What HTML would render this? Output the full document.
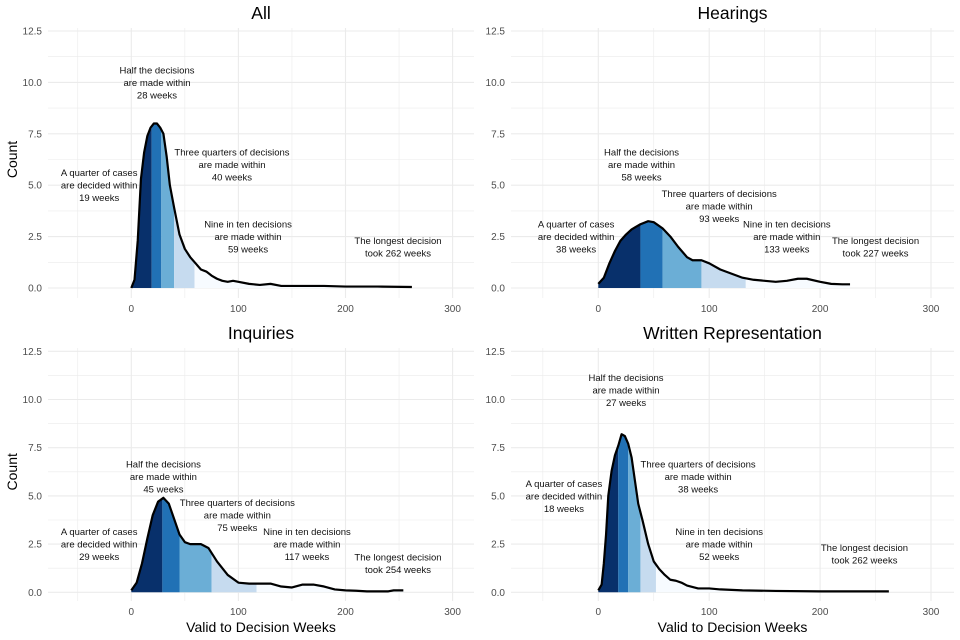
<!DOCTYPE html>
<html><head><meta charset="utf-8">
<style>
html,body{margin:0;padding:0;background:#fff;}
svg{display:block;font-family:"Liberation Sans",Arial,sans-serif;}
</style></head>
<body>
<svg id="chart" width="960" height="640" viewBox="0 0 960 640"></svg>
<script>
// ---- data ----
const panelTitles = ["All", "Hearings", "Inquiries", "Written Representation"];
const xTicks = [0, 100, 200, 300];
const yTicks = [0, 2.5, 5, 7.5, 10, 12.5];
const yTickLabels = ["0.0", "2.5", "5.0", "7.5", "10.0", "12.5"];

const allWeeks = [0,3,6,9,12,15,18,21,24,27,30,33,36,40,45,50,55,60,65,70,75,80,85,90,95,100,110,120,130,140,150,180,200,230,262];
const allCounts = [0,0.4,2.3,5.3,6.6,7.4,7.8,8.0,8.0,7.8,7.5,6.4,5.0,3.9,2.6,1.9,1.5,1.2,0.9,0.8,0.6,0.45,0.35,0.3,0.35,0.3,0.2,0.15,0.2,0.1,0.1,0.1,0.07,0.07,0.05];
const allQuantiles = [19, 28, 40, 59, 262];

const hearWeeks = [0,5,10,15,20,25,30,38,45,50,58,65,72,80,85,93,100,110,120,130,140,150,160,170,180,188,200,210,220,227];
const hearCounts = [0.2,0.5,1.2,1.8,2.3,2.6,2.85,3.1,3.25,3.2,2.9,2.5,2.0,1.5,1.35,1.35,1.2,0.9,0.7,0.5,0.4,0.35,0.3,0.35,0.45,0.45,0.3,0.2,0.18,0.18];
const hearQuantiles = [38, 58, 93, 133, 227];

const inqWeeks = [0,5,10,15,20,25,30,35,40,45,50,55,65,72,80,90,100,110,120,130,140,150,160,170,180,190,200,210,220,240,245,254];
const inqCounts = [0.1,0.5,1.5,2.8,4.0,4.7,4.9,4.6,3.8,3.0,2.6,2.5,2.5,2.3,1.6,0.9,0.5,0.45,0.45,0.45,0.3,0.25,0.4,0.4,0.3,0.15,0.1,0.08,0.05,0.05,0.1,0.1];
const inqQuantiles = [29, 45, 75, 117, 254];

const wrWeeks = [0,3,5,7,9,12,15,18,21,24,27,30,33,36,40,45,50,55,60,65,70,75,80,90,100,110,130,160,200,262];
const wrCounts = [0.1,0.4,1.5,3.0,5.0,6.3,7.1,7.6,8.2,8.1,7.7,7.0,5.8,4.6,3.7,2.5,1.6,1.2,0.9,0.65,0.6,0.5,0.35,0.2,0.2,0.15,0.1,0.07,0.05,0.05];
const wrQuantiles = [18, 27, 38, 52, 262];

const labelTexts = [
  ["A quarter of cases","are decided within"],
  ["Half the decisions","are made within"],
  ["Three quarters of decisions","are made within"],
  ["Nine in ten decisions","are made within"],
  ["The longest decision"]
];
const allLabelX = [-30, 24, 94, 109, 249];
const allLabelY = [5.0, 10.0, 6.0, 2.5, 2.0];
const hearLabelX = [-20, 39, 109, 170, 250];
const hearLabelY = [2.5, 6.0, 4.0, 2.5, 2.0];
const inqLabelX = [-30, 30, 99, 164, 249];
const inqLabelY = [2.5, 6.0, 4.0, 2.5, 1.5];
const wrLabelX = [-31, 25, 90, 109, 240];
const wrLabelY = [5.0, 10.5, 6.0, 2.5, 2.0];

const fills = ["#08306b","#2171b5","#6baed6","#c6dbef","#f7fbff"];

const panels = [
  {name:"all", weeks:allWeeks, counts:allCounts, q:allQuantiles, lx:allLabelX, ly:allLabelY,
   left:48,right:474,top:20,bottom:298,x0:131.3,xs:1.071,y0:288,ys:20.56,yAxisTitle:true,xAxisTitle:false},
  {name:"hearings", weeks:hearWeeks, counts:hearCounts, q:hearQuantiles, lx:hearLabelX, ly:hearLabelY,
   left:511,right:954,top:20,bottom:298,x0:598.3,xs:1.109,y0:288,ys:20.56,yAxisTitle:false,xAxisTitle:false},
  {name:"inquiries", weeks:inqWeeks, counts:inqCounts, q:inqQuantiles, lx:inqLabelX, ly:inqLabelY,
   left:48,right:474,top:340,bottom:601,x0:131.3,xs:1.071,y0:592.3,ys:19.28,yAxisTitle:true,xAxisTitle:true},
  {name:"written-representation", weeks:wrWeeks, counts:wrCounts, q:wrQuantiles, lx:wrLabelX, ly:wrLabelY,
   left:511,right:954,top:340,bottom:601,x0:598.3,xs:1.109,y0:592.3,ys:19.28,yAxisTitle:false,xAxisTitle:true}
];

const NS = "http://www.w3.org/2000/svg";
const svg = document.getElementById("chart");
function mk(tag, attrs, parent){
  const e = document.createElementNS(NS, tag);
  for (const k in attrs) e.setAttribute(k, attrs[k]);
  (parent||svg).appendChild(e);
  return e;
}
function interp(ws, cs, x){
  if (x <= ws[0]) return cs[0];
  for (let i=1;i<ws.length;i++){
    if (x <= ws[i]){ const t=(x-ws[i-1])/(ws[i]-ws[i-1]); return cs[i-1]+t*(cs[i]-cs[i-1]); }
  }
  return cs[cs.length-1];
}

panels.forEach((p, pi) => {
  const sx = v => p.x0 + v*p.xs;
  const sy = v => p.y0 - v*p.ys;
  const g = mk("g", {});
  
  

  const grid = mk("g", {}, g);
  
  
  for (let v=-50; v<=300; v+=50){
    const x = sx(v);
    if (x < p.left || x > p.right) continue;
    mk("line",{x1:x,x2:x,y1:p.top+8,y2:p.bottom,stroke:"#ebebeb","stroke-width":(v%100===0)?1.1:0.6},grid);
  }
  for (let v=0; v<=12.5; v+=1.25){
    const y = sy(v);
    mk("line",{x1:p.left,x2:p.right,y1:y,y2:y,stroke:"#ebebeb","stroke-width":(Math.abs(v/2.5-Math.round(v/2.5))<1e-6)?1.1:0.6},grid);
  }

  yTicks.forEach((v,i) => {
    const t = mk("text",{x:p.left-6,y:sy(v)+3.5,"text-anchor":"end","font-size":10,fill:"#4d4d4d"},g);
    t.textContent = yTickLabels[i];
    
    
  });
  xTicks.forEach(v => {
    const t = mk("text",{x:sx(v),y:p.bottom+14,"text-anchor":"middle","font-size":10,fill:"#4d4d4d"},g);
    t.textContent = String(v);
    
    
  });

  let start = p.weeks[0];
  p.q.forEach((qv, qi) => {
    const end = Math.min(qv, p.weeks[p.weeks.length-1]);
    const pts = [[start, 0],[start, interp(p.weeks,p.counts,start)]];
    p.weeks.forEach((w,i) => { if (w > start && w < end) pts.push([w, p.counts[i]]); });
    pts.push([end, interp(p.weeks,p.counts,end)]);
    pts.push([end, 0]);
    const poly = mk("polygon",{points:pts.map(a=>sx(a[0]).toFixed(2)+","+sy(a[1]).toFixed(2)).join(" "),fill:fills[qi],stroke:"none"},g);
    
    
    start = end;
  });

  const line = mk("polyline",{points:p.weeks.map((w,i)=>sx(w).toFixed(2)+","+sy(p.counts[i]).toFixed(2)).join(" "),fill:"none",stroke:"#000","stroke-width":2.2,"stroke-linejoin":"round"},g);
  
  

  labelTexts.forEach((lines, li) => {
    const all = lines.concat([(li===4 ? "took " : "") + p.q[li] + " weeks"]);
    const cx = sx(p.lx[li]);
    const mid = sy(p.ly[li]);
    const n = all.length;
    const t = mk("text",{"text-anchor":"middle","font-size":9.5,fill:"#111"},g);
    
    
    all.forEach((s, k) => {
      const ts = mk("tspan",{x:cx,y:(mid + (k-(n-1)/2)*12.5 + 3.5).toFixed(1)},t);
      ts.textContent = s;
    });
  });

  const title = mk("text",{x:(p.left+p.right)/2,y:p.top-1,"text-anchor":"middle","font-size":17.5,fill:"#000"},g);
  title.textContent = panelTitles[pi];
  
  

  if (p.yAxisTitle){
    const cy = (sy(12.5)+sy(0))/2;
    const yt = mk("text",{x:0,y:0,transform:"translate(17,"+cy+") rotate(-90)","text-anchor":"middle","font-size":14,fill:"#000"},g);
    yt.textContent = "Count";
    
    
  }
  if (p.xAxisTitle){
    const xt = mk("text",{x:(p.left+p.right)/2,y:632,"text-anchor":"middle","font-size":14,fill:"#000"},g);
    xt.textContent = "Valid to Decision Weeks";
    
    
  }
});
</script>
</body></html>
